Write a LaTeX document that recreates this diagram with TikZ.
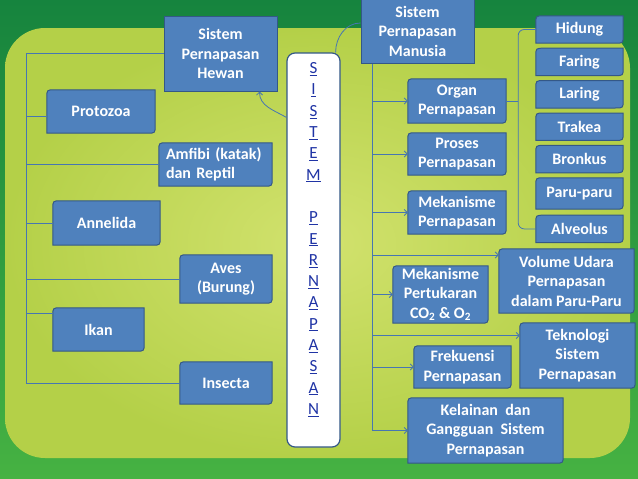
\documentclass[tikz,border=0pt]{standalone}
\usepackage{fontspec}
\newfontfamily\calibri{Carlito}
\usepackage{xcolor}
\usetikzlibrary{positioning,arrows.meta}

\definecolor{tileblue}{RGB}{79,129,189}
\definecolor{tileedge}{RGB}{52,88,135}
\definecolor{linkblue}{RGB}{70,118,178}
\definecolor{lettercol}{RGB}{32,52,165}
\definecolor{greendark}{RGB}{22,132,62}
\definecolor{greenlow}{RGB}{70,178,66}
\definecolor{panelin}{RGB}{210,226,110}
\definecolor{panelout}{RGB}{180,208,72}

\pgfdeclarelayer{backdrop}
\pgfdeclarelayer{frames}
\pgfsetlayers{backdrop,frames,main}

% frame with two rounded corners (top left, bottom right)
\newcommand{\tileframe}[1]{%
  \filldraw[frame] (#1.north east) -- ([xshift=8pt]#1.north west)
    .. controls (#1.north west) .. ([yshift=-8pt]#1.north west)
    -- (#1.south west) -- ([xshift=-8pt]#1.south east)
    .. controls (#1.south east) .. ([yshift=8pt]#1.south east) -- cycle;}

\begin{document}
\begin{tikzpicture}[
    x=1pt, y=-1pt,
    tile/.style={text=white, font=\calibri\bfseries\fontsize{16}{19.5}\selectfont,
                 align=center, inner sep=0pt},
    dims/.style 2 args={minimum width=#1, minimum height=#2},
    head/.style={tile, draw=tileedge, fill=tileblue, line width=1pt},
    frame/.style={draw=tileedge, fill=tileblue, line width=1pt},
    organ/.style={tile, dims={87pt}{27pt}},
    panel/.style={draw=tileedge, fill=white, rounded corners=8pt, line width=1.2pt},
    letters/.style={text=lettercol, font=\calibri\fontsize{17}{21.3}\selectfont, align=center},
    link/.style={draw=linkblue, line width=0.8pt},
    arr/.style={link, -{Straight Barb[length=3pt,width=6pt]}}
]
\useasboundingbox (0,0) rectangle (638,479);

% Backdrop
\begin{pgfonlayer}{backdrop}
\shade[top color=greendark, bottom color=greenlow] (0,0) rectangle (638,479);
\shade[inner color=panelin, outer color=panelout, rounded corners=40pt] (5,28) rectangle (630,458);
\end{pgfonlayer}

% Hewan
\node[head, dims={113pt}{75pt}] (hewan) at (220.5,53.5) {Sistem\\Pernapasan\\Hewan};
\node[tile, dims={108pt}{43pt}] (protozoa) at (101,111.5) {Protozoa};
\node[tile, dims={113pt}{43pt}, text width=99pt, align=left] (amfibi) at (215.5,164.5) {Amfibi (katak)\\dan Reptil};
\node[tile, dims={107pt}{44pt}] (annelida) at (106.5,223) {Annelida};
\node[tile, dims={92pt}{48pt}] (aves) at (226,279) {Aves\\(Burung)};
\node[tile, dims={91pt}{43pt}] (ikan) at (98.5,329.5) {Ikan};
\node[tile, dims={92pt}{42pt}] (insecta) at (226,383) {Insecta};

% Sistem pernapasan
\node[panel, dims={53pt}{394pt}] (sistem) at (313.5,250) {};
\node[letters] (kata) at (313.5,239.5) {\underline{S}\\\underline{I}\\\underline{S}\\\underline{T}\\\underline{E}\\\underline{M}\\[21.3pt]
  \underline{P}\\\underline{E}\\\underline{R}\\\underline{N}\\\underline{A}\\\underline{P}\\\underline{A}\\\underline{S}\\\underline{A}\\\underline{N}};

% Manusia
\node[head, dims={113pt}{64pt}] (manusia) at (417.5,31) {Sistem\\Pernapasan\\Manusia};
\node[tile, dims={98pt}{44pt}] (organ) at (457,101) {Organ\\Pernapasan};
\node[tile, dims={98pt}{42pt}] (proses) at (457,154) {Proses\\Pernapasan};
\node[tile, dims={98pt}{43pt}] (mekanisme) at (457,212.5) {Mekanisme\\Pernapasan};
\node[tile, dims={135pt}{64pt}] (volume) at (566.5,281) {Volume Udara\\Pernapasan\\dalam Paru-Paru};
\node[tile, dims={95pt}{57pt}] (pertukaran) at (440.5,294.5) {Mekanisme\\Pertukaran\\CO\textsubscript{2} \& O\textsubscript{2}};
\node[tile, dims={115pt}{65pt}] (teknologi) at (577.5,355.5) {Teknologi\\Sistem\\Pernapasan};
\node[tile, dims={97pt}{42pt}] (frekuensi) at (462.5,367) {Frekuensi\\Pernapasan};
\node[tile, dims={155pt}{65pt}] (kelainan) at (485.5,430.5) {Kelainan~ dan\\Gangguan~ Sistem\\Pernapasan};

% Organ pernapasan
\node[organ] (hidung) at (579.5,29.5) {Hidung};
\node[organ, below=5pt of hidung] (faring) {Faring};
\node[organ, below=5pt of faring] (laring) {Laring};
\node[organ, below=5pt of laring] (trakea) {Trakea};
\node[organ, below=5pt of trakea] (bronkus) {Bronkus};
\node[organ, below=5pt of bronkus, dims={87pt}{31pt}] (paru) {Paru-paru};
\node[organ, below=6pt of paru] (alveolus) {Alveolus};

\begin{pgfonlayer}{frames}
\foreach \t in {protozoa,amfibi,annelida,aves,ikan,insecta,organ,proses,mekanisme,
                volume,pertukaran,teknologi,frekuensi,kelainan,
                hidung,faring,laring,trakea,bronkus,paru,alveolus}
  {\tileframe{\t}}
\end{pgfonlayer}

% Lines, left
\coordinate (trunkL) at ([xshift=-137pt]hewan.west);
\coordinate (protin) at ([yshift=-5pt]protozoa.west);
\coordinate (ikanin) at ([yshift=16pt]ikan.west);
\draw[link] (hewan.west) -- (trunkL) -- (trunkL |- insecta.west) -- (insecta.west);
\draw[link] (trunkL |- protin) -- (protin);
\draw[link] (trunkL |- ikanin) -- (ikanin);
\foreach \t in {amfibi,annelida,aves}
  \draw[link] (trunkL |- \t.west) -- (\t.west);

% Lines, right
\coordinate (trunkR) at ([xshift=12pt]manusia.south west);
\coordinate (volin) at ([yshift=26pt]volume.west);
\coordinate (teknin) at ([yshift=20pt]teknologi.west);
\draw[link] (trunkR) -- (trunkR |- kelainan.west);
\foreach \t in {organ,proses,mekanisme,pertukaran,frekuensi,kelainan}
  \draw[arr] (trunkR |- \t.west) -- (\t.west);
\draw[arr] (trunkR |- volin) -- (volin);
\draw[arr] (trunkR |- teknin) -- (teknin);

% Brace to organs
\coordinate (brace) at ([xshift=12pt]organ.east);
\draw[link] (organ.east) -- (brace);
\draw[link, rounded corners=6pt] (hidung.west) -| (brace) |- (alveolus.west);

% From the centre
\draw[arr] ([yshift=-65pt]sistem.north west) to[out=150,in=-90] ([xshift=-18pt]hewan.south east);
\draw[link] ([xshift=-5pt]sistem.north east) to[out=90,in=180] ([yshift=8pt]manusia.west);

\end{tikzpicture}
\end{document}
